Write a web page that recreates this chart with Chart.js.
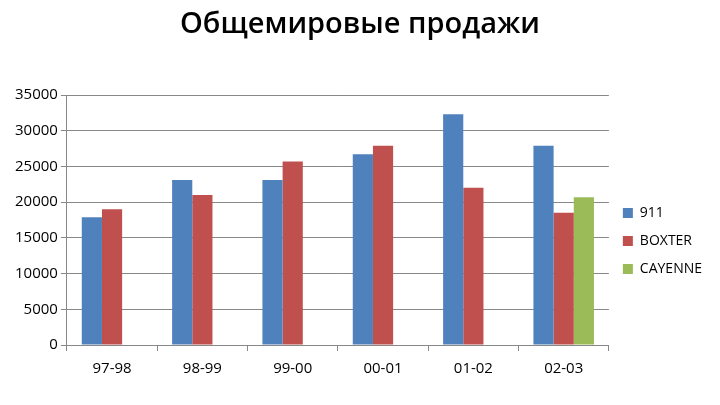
<!DOCTYPE html>
<html><head><meta charset="utf-8">
<script src="https://cdn.jsdelivr.net/npm/chart.js@4"></script>
<style>body{margin:0;background:#fff}#w{position:relative;width:720px;height:405px}
#t{position:absolute;left:0;width:720px;top:2px;text-align:center;font:600 29px "Open Sans",sans-serif;color:#000}
canvas{position:absolute;left:0;top:0}</style></head>
<body><div id="w"><canvas id="c" width="720" height="405"></canvas><div id="t">Общемировые продажи</div></div>
<script>
const categories=['97-98','98-99','99-00','00-01','01-02','02-03'];
const s911=[17900,23100,23100,26700,32300,27900];
const sBoxter=[19000,21000,25700,27900,22000,18500];
const sCayenne=[null,null,null,null,null,20700];
const yTicks=[0,5000,10000,15000,20000,25000,30000,35000];
new Chart(document.getElementById('c'),{type:'bar',
data:{labels:categories,datasets:[
{label:'911',data:s911,backgroundColor:'#4f81bd'},
{label:'BOXTER',data:sBoxter,backgroundColor:'#c0504d'},
{label:'CAYENNE',data:sCayenne,backgroundColor:'#9bbb59'}]},
options:{responsive:false,animation:false,
layout:{padding:{top:95,left:12,right:8,bottom:18}},
datasets:{bar:{categoryPercentage:0.67,barPercentage:1}},
plugins:{legend:{position:'right',align:'center',labels:{boxWidth:10,boxHeight:10,font:{family:'Open Sans',size:14},color:'#000',padding:14}},tooltip:{enabled:false}},
scales:{x:{grid:{display:true,drawOnChartArea:false,color:'#888',tickLength:6},border:{color:'#888'},ticks:{padding:9,font:{family:'Open Sans',size:15},color:'#000'}},
y:{min:0,max:35000,afterBuildTicks:a=>{a.ticks=yTicks.map(v=>({value:v}))},grid:{color:'#888',tickLength:6},border:{color:'#888'},ticks:{font:{family:'Open Sans',size:15},color:'#000',callback:v=>String(v)}}}}});
</script></body></html>
